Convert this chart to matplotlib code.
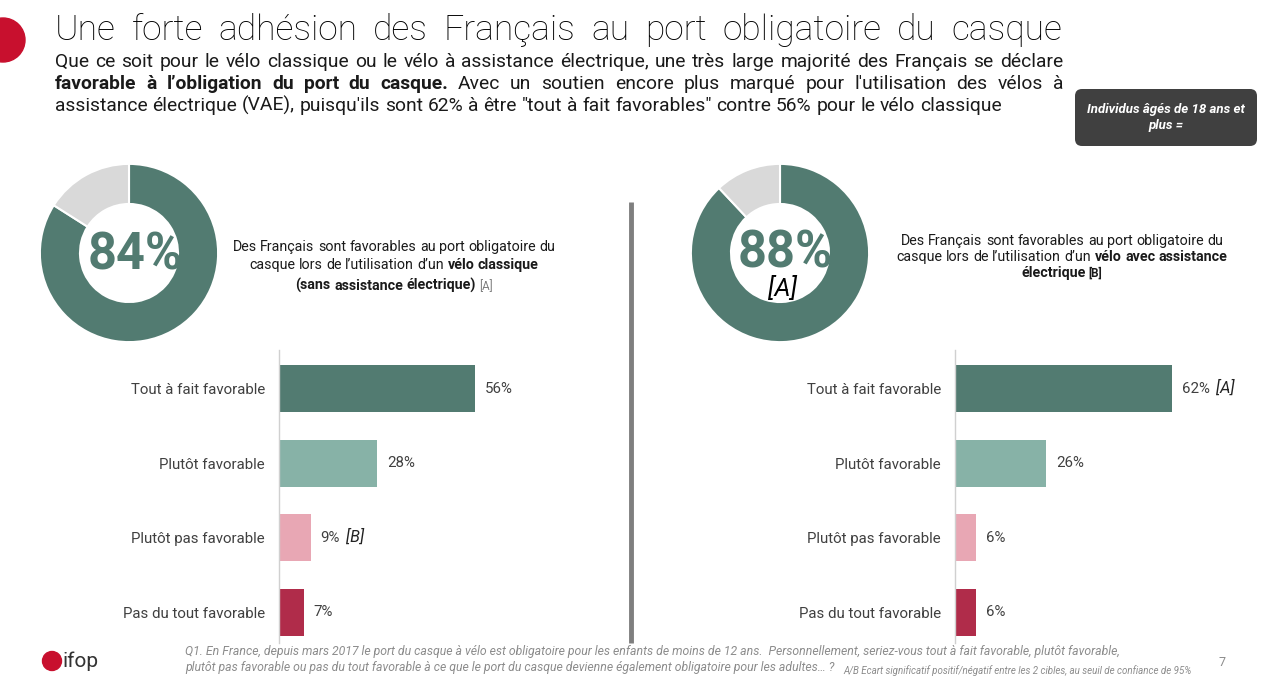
import matplotlib
matplotlib.use('Agg')
import matplotlib.pyplot as plt
from matplotlib.patches import FancyBboxPatch, Circle
import numpy as np

# ---------------- data ----------------
categories = ["Tout à fait favorable", "Plutôt favorable", "Plutôt pas favorable", "Pas du tout favorable"]
classic_values = [56, 28, 9, 7]
vae_values = [62, 26, 6, 6]
classic_marks = ["", "", "[B]", ""]
vae_marks = ["[A]", "", "", ""]
classic_total = 84
vae_total = 88
vae_total_mark = "[A]"

title = "Une forte adhésion des Français au port obligatoire du casque"
sub_line1 = "Que ce soit pour le vélo classique ou le vélo à assistance électrique, une très large majorité des Français se déclare"
sub_line2_bold = "favorable à l’obligation du port du casque."
sub_line2_rest = " Avec un soutien encore plus marqué pour l'utilisation des vélos à"
sub_line3 = "assistance électrique (VAE), puisqu'ils sont 62% à être \"tout à fait favorables\" contre 56% pour le vélo classique"
box_text = ["Individus âgés de 18 ans et", "plus ="]
footer_q = ["Q1. En France, depuis mars 2017 le port du casque à vélo est obligatoire pour les enfants de moins de 12 ans.  Personnellement, seriez-vous tout à fait favorable, plutôt favorable,",
            "plutôt pas favorable ou pas du tout favorable à ce que le port du casque devienne également obligatoire pour les adultes… ?"]
footer_note = "A/B Ecart significatif positif/négatif entre les 2 cibles, au seuil de confiance de 95%"

# ---------------- style ----------------
W, H = 1268, 686
GREEN = '#527B71'
DONUT_GRAY = '#D9D9D9'
bar_colors = ['#527B71', '#87B2A7', '#E8A7B4', '#B02C4A']
RED = '#C8102E'
FONT = ['Liberation Sans Narrow', 'Roboto', 'DejaVu Sans']
TXT = '#1A1A1A'
LBL = '#404040'

fig = plt.figure(figsize=(W / 100, H / 100), dpi=100)
fig.patch.set_facecolor('white')
ov = fig.add_axes([0, 0, 1, 1])
ov.set_xlim(0, W)
ov.set_ylim(H, 0)
ov.axis('off')
ov.set_zorder(10)
renderer = fig.canvas.get_renderer()


def measure(s, **kw):
    t = ov.text(0, 0, s, **kw)
    w = t.get_window_extent(renderer).width
    t.remove()
    return w


def fit(s, target, **kw):
    return 20 * target / measure(s, fontsize=20, **kw)


def space_w(kw):
    return measure('x x', **kw) - measure('xx', **kw)


def draw_line(segments, x, y, ha='left', justify_to=None, va='baseline'):
    toks = []
    for s, kw in segments:
        lead = s.startswith(' ')
        for i, w in enumerate(s.split()):
            toks.append((w, kw, lead if i == 0 else True))
    ws = [measure(w, **kw) for w, kw, _ in toks]
    sps = [space_w(kw) if sb else 0 for w, kw, sb in toks]
    sps[0] = 0
    if justify_to is not None:
        n = sum(1 for s in sps if s > 0)
        extra = (justify_to - x - sum(ws) - sum(sps)) / max(n, 1)
        sps = [s + extra if s > 0 else 0 for s in sps]
    total = sum(ws) + sum(sps)
    x0 = x - total / 2 if ha == 'center' else (x - total if ha == 'right' else x)
    for (w, kw, _), wd, sp in zip(toks, ws, sps):
        x0 += sp
        ov.text(x0, y, w, ha='left', va=va, **kw)
        x0 += wd


# ---------------- header ----------------
ov.add_patch(Circle((3, 40), 22, color=RED, zorder=1))
title_kw = dict(family=FONT, fontsize=25.5, color='#000000', fontweight='light')
draw_line([(title, title_kw)], 55, 40, justify_to=1062)

fs_sub = fit(sub_line3, 943, family=FONT)
sub_kw = dict(family=FONT, fontsize=fs_sub, color=TXT)
sub_bold = dict(family=FONT, fontsize=fs_sub, color=TXT, fontweight='bold')
draw_line([(sub_line1, sub_kw)], 55, 67, justify_to=1063)
draw_line([(sub_line2_bold, sub_bold), (sub_line2_rest, sub_kw)], 55, 89, justify_to=1063)
draw_line([(sub_line3, sub_kw)], 55, 111)

ov.add_patch(FancyBboxPatch((1075, 89), 182, 57, boxstyle='round,pad=0,rounding_size=7',
                            facecolor='#404040', edgecolor='none'))
box_kw = dict(family=FONT, color='white', fontweight='bold', fontstyle='italic')
fs_box = fit(box_text[0], 158, **box_kw)
ov.text(1166, 109, box_text[0], ha='center', va='center', fontsize=fs_box, **box_kw)
ov.text(1166, 126, box_text[1], ha='center', va='center', fontsize=fs_box, **box_kw)

# ---------------- divider ----------------
ov.plot([631, 631], [202, 643], color='#7F7F7F', lw=3.5, solid_capstyle='butt')


# ---------------- donuts ----------------
def donut(cx, cy, r, total):
    ax = fig.add_axes([(cx - r) / W, (H - cy - r) / H, 2 * r / W, 2 * r / H])
    ax.pie([total, 100 - total], colors=[GREEN, DONUT_GRAY], startangle=90, counterclock=False,
           wedgeprops=dict(width=0.45, edgecolor='white', linewidth=1.5))
    ax.set_xlim(-1.01, 1.01)
    ax.set_ylim(-1.01, 1.01)
    ax.set_aspect('equal')
    return ax


donut(129, 253, 90, classic_total)
donut(780, 253, 90, vae_total)

num_kw = dict(family=FONT, fontweight='bold', color=GREEN)
fs_num = fit(f"{classic_total}%", 89, **num_kw) * 1.07
ov.text(135, 255, f"{classic_total}%", ha='center', va='center', fontsize=fs_num, **num_kw)
ov.text(785, 253, f"{vae_total}%", ha='center', va='center', fontsize=fs_num, **num_kw)
ov.text(783, 288, vae_total_mark, ha='center', va='center', fontsize=fs_num * 0.5,
        family=FONT, fontstyle='italic', color='#000000')

# ---------------- descriptions ----------------
d1 = "Des Français sont favorables au port obligatoire du"
fs_desc = fit(d1, 321, family=FONT)
dk = dict(family=FONT, fontsize=fs_desc, color=TXT)
db = dict(family=FONT, fontsize=fs_desc, color=TXT, fontweight='bold')
dtag = dict(family=FONT, fontsize=fs_desc * 0.82, color='#7F7F7F')
dtagb = dict(family=FONT, fontsize=fs_desc * 0.82, color=TXT, fontweight='bold')
draw_line([(d1, dk)], 394, 251, ha='center')
draw_line([("casque lors de l’utilisation d’un", dk), (" vélo classique", db)], 394, 269, ha='center')
draw_line([("(sans assistance électrique)", db), (" [A]", dtag)], 394, 290, ha='center')
draw_line([(d1, dk)], 1062, 245, ha='center')
draw_line([("casque lors de l’utilisation d’un", dk), (" vélo avec assistance", db)], 1062, 261, ha='center')
draw_line([("électrique", db), (" [B]", dtagb)], 1062, 277, ha='center')

# ---------------- bar panels ----------------
lbl_kw = dict(family=FONT, color=LBL)
fs_lbl = fit(categories[0], 135, **lbl_kw)


def bar_panel(left_px, values, marks):
    ax = fig.add_axes([left_px / W, (H - 643) / H, 300 / W, 293 / H])
    ax.patch.set_alpha(0)
    y = np.arange(len(categories))
    ax.barh(y, values, height=0.63, color=bar_colors)
    ax.set_xlim(0, 300 / 3.5)
    ax.set_ylim(3.41, -0.523)
    for s in ['top', 'right', 'bottom']:
        ax.spines[s].set_visible(False)
    ax.spines['left'].set_color('#D0D0D0')
    ax.spines['left'].set_linewidth(1)
    ax.set_xticks([])
    ax.set_yticks(y)
    ax.set_yticklabels(categories, fontsize=fs_lbl, **lbl_kw)
    ax.tick_params(axis='y', length=0, pad=10)
    for i, (v, m) in enumerate(zip(values, marks)):
        lab = f"{v}%"
        ax.annotate(lab, xy=(v, i), xytext=(10, 0), textcoords='offset pixels',
                    ha='left', va='center', fontsize=fs_lbl, **lbl_kw)
        if m:
            wv = measure(lab, fontsize=fs_lbl, **lbl_kw)
            ax.annotate(m, xy=(v, i), xytext=(10 + wv + 6, 1), textcoords='offset pixels',
                        ha='left', va='center', fontsize=fs_lbl * 1.08, family=FONT,
                        fontstyle='italic', color='#222222')
    return ax


bar_panel(279, classic_values, classic_marks)
bar_panel(955, vae_values, vae_marks)

# ---------------- footer ----------------
ov.add_patch(Circle((52, 661), 9.5, color=RED))
ov.text(63, 667, "ifop", ha='left', va='baseline', fontsize=15, family=FONT, color='#333333')
fq_kw = dict(family=FONT, fontstyle='italic', color='#8C8C8C')
fs_fq = fit(footer_q[0], 936, **fq_kw)
ov.text(185, 651, footer_q[0], ha='left', va='center', fontsize=fs_fq, **fq_kw)
ov.text(185, 667, footer_q[1], ha='left', va='center', fontsize=fs_fq, **fq_kw)
fs_note = fit(footer_note, 347, **fq_kw)
ov.text(843, 671, footer_note, ha='left', va='center', fontsize=fs_note, **fq_kw)
ov.text(1222, 662, "7", ha='center', va='center', fontsize=9, family=FONT, color='#8C8C8C')

fig.savefig('out.png', dpi=100, facecolor='white')
